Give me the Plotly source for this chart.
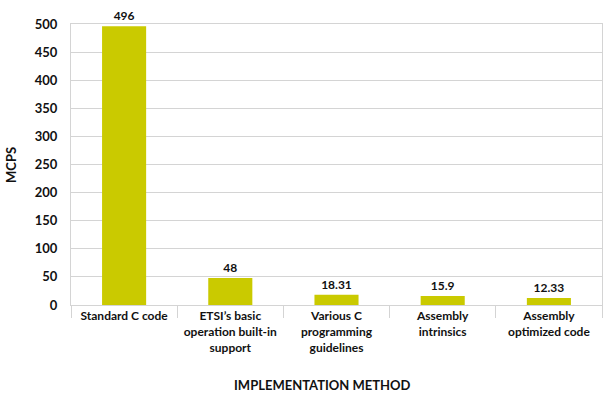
import plotly.graph_objects as go

categories = [
    "Standard C code",
    "ETSI\u2019s basic<br>operation built-in<br>support",
    "Various C<br>programming<br>guidelines",
    "Assembly<br>intrinsics",
    "Assembly<br>optimized code",
]
values = [496, 48, 18.31, 15.9, 12.33]
value_labels = ["496", "48", "18.31", "15.9", "12.33"]
y_ticks = [0, 50, 100, 150, 200, 250, 300, 350, 400, 450, 500]

FONT = "Lato, 'Open Sans', Arial, sans-serif"
GRID = "#d4d4d4"
INK = "#111111"

L, R, T, B = 71, 9, 24, 93
W, H = 611, 398
PW, PH = W - L - R, H - T - B

fig = go.Figure(
    go.Bar(
        x=categories,
        y=values,
        text=value_labels,
        textposition="outside",
        textfont=dict(family=FONT, size=12, color=INK, weight="bold"),
        marker=dict(color="#CACA00", line=dict(width=0)),
        width=0.415,
        cliponaxis=False,
    )
)

fig.update_layout(
    width=W,
    height=H,
    margin=dict(l=L, r=R, t=T, b=B, autoexpand=False),
    paper_bgcolor="white",
    plot_bgcolor="white",
    showlegend=False,
    font=dict(family=FONT, size=12, color=INK),
)

fig.update_xaxes(
    type="category",
    automargin=False,
    tickson="boundaries",
    ticks="outside",
    ticklen=12,
    tickcolor=GRID,
    tickwidth=1,
    showline=True,
    linecolor=GRID,
    linewidth=1,
    mirror=True,
    showgrid=False,
    tickfont=dict(family=FONT, size=12, color=INK, weight="bold"),
)

fig.update_yaxes(
    automargin=False,
    range=[0, 500],
    tickvals=y_ticks,
    ticktext=[str(v) for v in y_ticks],
    showgrid=True,
    gridcolor=GRID,
    gridwidth=1,
    showline=True,
    linecolor=GRID,
    mirror=True,
    zeroline=False,
    ticks="",
    ticklabelstandoff=10,
    tickfont=dict(family=FONT, size=13, color=INK, weight="bold"),
)

fig.add_annotation(
    text="MCPS",
    xref="paper", yref="paper",
    x=-(L - 11) / PW, y=(305 - 165) / PH,
    xanchor="center", yanchor="middle",
    textangle=-90,
    showarrow=False,
    font=dict(family=FONT, size=13, color=INK, weight="bold"),
)

fig.add_annotation(
    text="IMPLEMENTATION METHOD",
    xref="paper", yref="paper",
    x=(322 - L) / PW, y=-(385 - (H - B)) / PH,
    xanchor="center", yanchor="middle",
    showarrow=False,
    font=dict(family=FONT, size=13, color=INK, weight="bold"),
)

fig.write_html(
    "out.html",
    config={"displayModeBar": False},
    post_script="document.body.style.margin='0';document.body.style.overflow='hidden';",
)
